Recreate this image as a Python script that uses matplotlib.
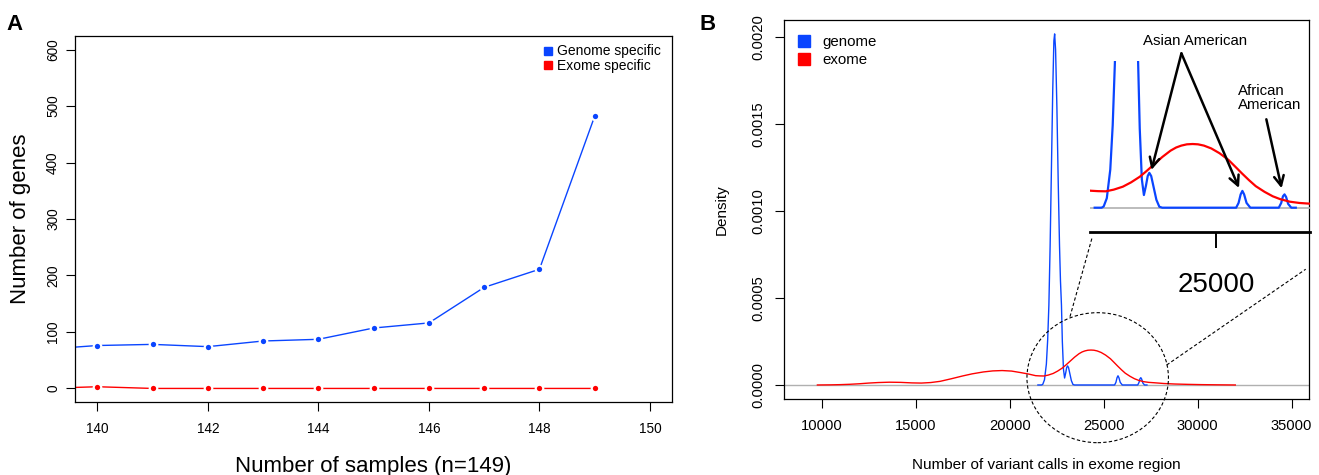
import matplotlib
matplotlib.use('Agg')
import matplotlib.pyplot as plt
from matplotlib.lines import Line2D
from matplotlib.patches import Ellipse
from matplotlib.ticker import FormatStrFormatter

plt.rcParams['font.family'] = ['Liberation Sans', 'DejaVu Sans']

# panel A: genes found only in genome / only in exome
samples = [139, 140, 141, 142, 143, 144, 145, 146, 147, 148, 149]
genome_specific = [69, 76, 78, 74, 84, 87, 107, 116, 179, 211, 482]
exome_specific = [0, 3, 0, 0, 0, 0, 0, 0, 0, 0, 0]

# panel B: density of variant calls in exome region
exome_x = [9770, 10500, 11000, 11500, 12000, 12500, 13000, 13600, 14200, 14800,
           15300, 15800, 16300, 16900, 17500, 18000, 18600, 19100, 19600, 20100,
           20600, 21000, 21377, 21600, 21819, 22050, 22312, 22550, 22802, 23000,
           23194, 23450, 23688, 23850, 24000, 24160, 24325, 24480, 24650, 24864,
           25100, 25357, 25550, 25750, 25950, 26145, 26400, 26636, 26850, 27126,
           27400, 27718, 28200, 28800, 29500, 30200, 31000, 32000]
exome_y = [0.0, 0.0000008, 0.000002, 0.000004, 0.000007, 0.000011, 0.000014, 0.000016, 0.000015, 0.000012,
           0.000011, 0.000014, 0.000021, 0.000036, 0.000052, 0.000064, 0.000075, 0.000081, 0.000083, 0.000080,
           0.000071, 0.000063, 0.0000536, 0.0000522, 0.0000517, 0.000057, 0.0000663, 0.00008, 0.0000978, 0.000116,
           0.000135, 0.00016, 0.00018, 0.00019, 0.000196, 0.0002, 0.000201, 0.0002, 0.000196, 0.000187,
           0.000172, 0.000151, 0.00013, 0.000108, 0.000087, 0.000068, 0.00005, 0.000036, 0.000027, 0.000019,
           0.000015, 0.0000126, 0.0000085, 0.0000055, 0.0000035, 0.000002, 0.000001, 0.0]

genome_x = [21500, 21700, 21760, 21850, 21950, 22020, 22084, 22150, 22220, 22290,
            22350, 22390, 22440, 22510, 22580, 22650, 22700, 22753, 22800, 22860,
            22920, 22980, 23030, 23076, 23130, 23200, 23280, 23365, 23450, 25580,
            25650, 25710, 25760, 25810, 25880, 25990, 26810, 26880, 26930, 26975,
            27020, 27080, 27170, 27300]
genome_y = [0.0, 0.0, 0.000004, 0.00003, 0.00012, 0.00026, 0.00046, 0.0008, 0.00125, 0.0017,
            0.00198, 0.00202, 0.00193, 0.0016, 0.00117, 0.0008, 0.0006, 0.00046, 0.00025, 0.00009,
            0.00004, 0.00007, 0.0001, 0.00011, 0.0001, 0.000065, 0.000025, 0.000003, 0.0, 0.0,
            0.000015, 0.000042, 0.000053, 0.000042, 0.000015, 0.0, 0.0, 0.000015, 0.000036, 0.000042,
            0.000034, 0.000012, 0.0, 0.0]

blue = '#0a45ff'
red = '#ff0000'

fig = plt.figure(figsize=(13.19, 4.75), dpi=100)

# ---- panel A ----
axA = fig.add_axes([0.0571, 0.1537, 0.4524, 0.7705])
for yv, col in [(genome_specific, blue), (exome_specific, red)]:
    axA.plot(samples, yv, color=col, lw=1.0, zorder=2)
    axA.plot(samples, yv, 'o', color='white', ms=7, mec='none', zorder=3)
    axA.plot(samples, yv, 'o', color=col, ms=3.8, mec='none', zorder=4)
axA.set_xlim(139.6, 150.4)
axA.set_ylim(-24, 624)
axA.set_xticks(range(140, 151, 2))
axA.set_yticks(range(0, 601, 100))
axA.tick_params(axis='x', length=6.5, width=0.8, pad=8, labelsize=9.8)
axA.tick_params(axis='y', length=6.5, width=0.8, pad=4.5, labelsize=9.8)
for lab in axA.get_yticklabels():
    lab.set_rotation(90)
    lab.set_va('center')
for s in axA.spines.values():
    s.set_linewidth(0.9)
axA.set_xlabel('Number of samples (n=149)', fontsize=16)
axA.set_ylabel('Number of genes', fontsize=16)
axA.xaxis.set_label_coords(0.5, -0.147)
axA.yaxis.set_label_coords(-0.074, 0.5)
hA = [Line2D([], [], marker='s', ls='none', color=blue, ms=6),
      Line2D([], [], marker='s', ls='none', color=red, ms=6)]
axA.legend(hA, ['Genome specific', 'Exome specific'], loc='upper right',
           bbox_to_anchor=(0.993, 0.996), frameon=False, fontsize=10,
           handlelength=0.6, handletextpad=0.35, labelspacing=0.05, borderpad=0)
fig.text(0.005, 0.97, 'A', fontsize=16, fontweight='bold', va='top')

# ---- panel B ----
axB = fig.add_axes([0.5942, 0.1594, 0.3982, 0.7985])
axB.axhline(0, color='#b0b0b0', lw=1.0, zorder=1)
axB.plot(genome_x, genome_y, color=blue, lw=1.0, zorder=2)
axB.plot(exome_x, exome_y, color=red, lw=1.0, zorder=3)
axB.set_xlim(7980, 35920)
axB.set_ylim(-0.0000823, 0.0021)
axB.set_xticks(range(10000, 35001, 5000))
axB.set_yticks([0, 0.0005, 0.001, 0.0015, 0.002])
axB.yaxis.set_major_formatter(FormatStrFormatter('%.4f'))
axB.tick_params(axis='x', length=6.5, width=0.8, pad=8, labelsize=10.6)
axB.tick_params(axis='y', length=6.5, width=0.8, pad=6.5, labelsize=10.6)
for lab in axB.get_yticklabels():
    lab.set_rotation(90)
    lab.set_va('center')
for s in axB.spines.values():
    s.set_linewidth(0.9)
axB.set_xlabel('Number of variant calls in exome region', fontsize=11)
axB.set_ylabel('Density', fontsize=11)
axB.xaxis.set_label_coords(0.5, -0.155)
axB.yaxis.set_label_coords(-0.104, 0.5)
hB = [Line2D([], [], marker='s', ls='none', color=blue, ms=8.6),
      Line2D([], [], marker='s', ls='none', color=red, ms=8.6)]
axB.legend(hB, ['genome', 'exome'], loc='upper left', bbox_to_anchor=(0.012, 0.98),
           frameon=False, fontsize=10.8, handlelength=0.8, handletextpad=0.85,
           labelspacing=0.27, borderpad=0)
fig.text(0.53, 0.97, 'B', fontsize=16, fontweight='bold', va='top')

# dashed circle around the zoomed region and the lines to the inset
axB.add_patch(Ellipse((24681, 0.000042), 7527, 0.000748, fill=False, ec='black',
                      lw=0.8, ls=(0, (3, 2)), clip_on=False, zorder=5))
axB.plot([23207, 24378], [0.000393, 0.000846], color='black', lw=0.8,
         ls=(0, (3, 2)), clip_on=False)
axB.plot([28351, 35745], [0.000115, 0.000666], color='black', lw=0.8,
         ls=(0, (3, 2)), clip_on=False)

# ---- zoomed inset ----
axI = fig.add_axes([0.8264, 0.5474, 0.1668, 0.3242])
axI.set_facecolor('none')
axI.axhline(0, color='#b0b0b0', lw=1.2, zorder=1)
axI.plot(genome_x, genome_y, color=blue, lw=1.6, zorder=2)
axI.plot(exome_x, exome_y, color=red, lw=1.6, zorder=3)
axI.set_xlim(21366, 27711)
axI.set_ylim(-0.000023, 0.000463)
for side in ['top', 'left', 'right']:
    axI.spines[side].set_visible(False)
axI.spines['bottom'].set_position(('outward', 12.2))
axI.spines['bottom'].set_linewidth(2.0)
axI.set_yticks([])
axI.set_xticks([25000])
axI.tick_params(axis='x', length=11.5, width=1.4, pad=17.5, labelsize=20)

arrow = dict(arrowstyle='->,head_length=0.7,head_width=0.35', color='black',
             lw=1.8, shrinkA=0, shrinkB=0, mutation_scale=10)
axI.annotate('', xy=(23137, 0.000119), xytext=(24002, 0.000487),
             arrowprops=arrow, annotation_clip=False)
axI.annotate('', xy=(25663, 0.0000622), xytext=(24002, 0.000487),
             arrowprops=arrow, annotation_clip=False)
axI.annotate('', xy=(26892, 0.0000612), xytext=(26451, 0.000279),
             arrowprops=arrow, annotation_clip=False)
axI.text(24383, 0.000527, 'Asian American', fontsize=10.8, ha='center', va='center',
         clip_on=False)
axI.text(25623, 0.000346, 'African\nAmerican', fontsize=10.8, ha='left', va='center',
         linespacing=1.05, clip_on=False)

fig.savefig('out.png', dpi=100)
